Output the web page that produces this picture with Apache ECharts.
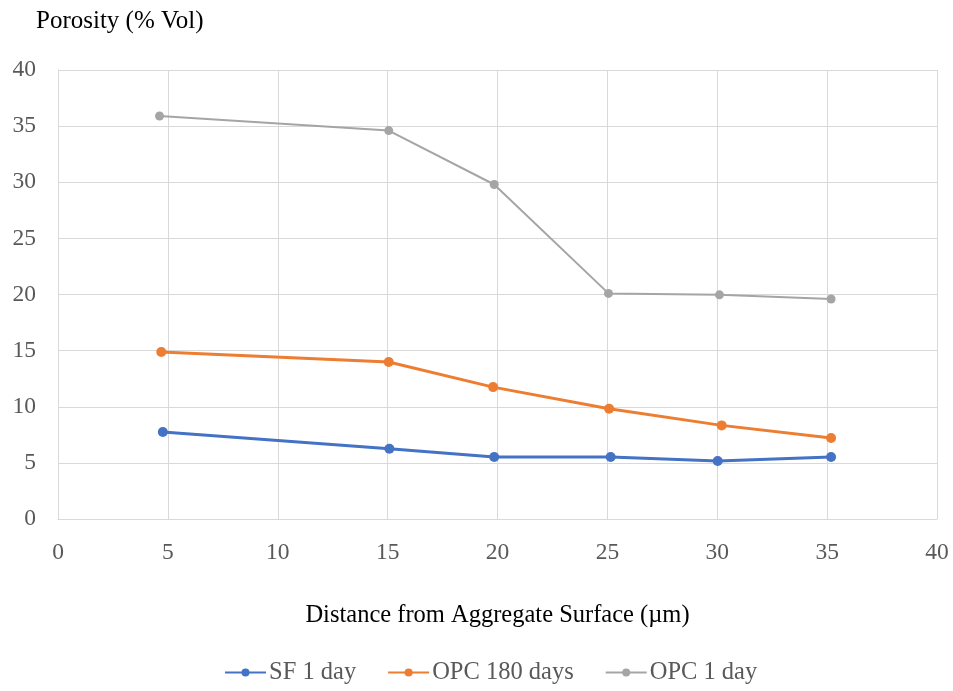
<!DOCTYPE html>
<html><head><meta charset="utf-8">
<script src="https://cdn.jsdelivr.net/npm/echarts@6/dist/echarts.min.js"></script>
<style>html,body{margin:0;padding:0;background:#fff}#c{width:953px;height:691px}</style>
</head><body><div id="c"></div>
<script>
const seriesNames = ['SF 1 day', 'OPC 180 days', 'OPC 1 day'];
const sfX = [4.77, 15.08, 19.85, 25.15, 30.02, 35.18];
const sfY = [7.75, 6.26, 5.52, 5.52, 5.16, 5.52];
const opc180X = [4.7, 15.05, 19.8, 25.08, 30.2, 35.18];
const opc180Y = [14.87, 13.98, 11.75, 9.82, 8.34, 7.21];
const opc1X = [4.62, 15.05, 19.85, 25.05, 30.1, 35.18];
const opc1Y = [35.9, 34.6, 29.8, 20.1, 19.97, 19.6];
const colors = ['#4472C4', '#ED7D31', '#A5A5A5'];
const font = 'Liberation Serif';
const zip = (xs, ys) => xs.map((x, i) => [x, ys[i]]);
const chart = echarts.init(document.getElementById('c'));
chart.setOption({
  animation: false,
  color: colors,
  textStyle: { fontFamily: font },
  grid: { left: 58, right: 16, top: 70, bottom: 172, containLabel: false },
  graphic: [{ type: 'text', left: 36, top: 9, style: { text: 'Porosity (% Vol)', font: '25px ' + font, fill: '#000' } }],
  xAxis: {
    type: 'value', min: 0, max: 40, interval: 5,
    name: 'Distance from Aggregate Surface (µm)', nameLocation: 'middle', nameGap: 84,
    nameTextStyle: { fontFamily: font, fontSize: 24.5, color: '#000' },
    axisLine: { show: true, lineStyle: { color: '#d9d9d9' } },
    axisTick: { show: false },
    splitLine: { show: true, lineStyle: { color: '#d9d9d9', width: 1 } },
    axisLabel: { fontFamily: font, fontSize: 23.5, color: '#595959', margin: 22 }
  },
  yAxis: {
    type: 'value', min: 0, max: 40, interval: 5,
    axisLine: { show: true, lineStyle: { color: '#d9d9d9' } },
    axisTick: { show: false },
    splitLine: { show: true, lineStyle: { color: '#d9d9d9', width: 1 } },
    axisLabel: { fontFamily: font, fontSize: 23.5, color: '#595959', margin: 22 }
  },
  legend: {
    bottom: 1, left: 219, itemGap: 31, itemWidth: 41, itemHeight: 10,
    textStyle: { fontFamily: font, fontSize: 24.5, color: '#595959', padding: [0, 0, 0, -2] },
    data: seriesNames
  },
  series: [
    { name: seriesNames[0], type: 'line', data: zip(sfX, sfY), symbol: 'circle', symbolSize: 10, lineStyle: { width: 3 } },
    { name: seriesNames[1], type: 'line', data: zip(opc180X, opc180Y), symbol: 'circle', symbolSize: 10, lineStyle: { width: 3 } },
    { name: seriesNames[2], type: 'line', data: zip(opc1X, opc1Y), symbol: 'circle', symbolSize: 9, lineStyle: { width: 2 } }
  ]
});
</script></body></html>
